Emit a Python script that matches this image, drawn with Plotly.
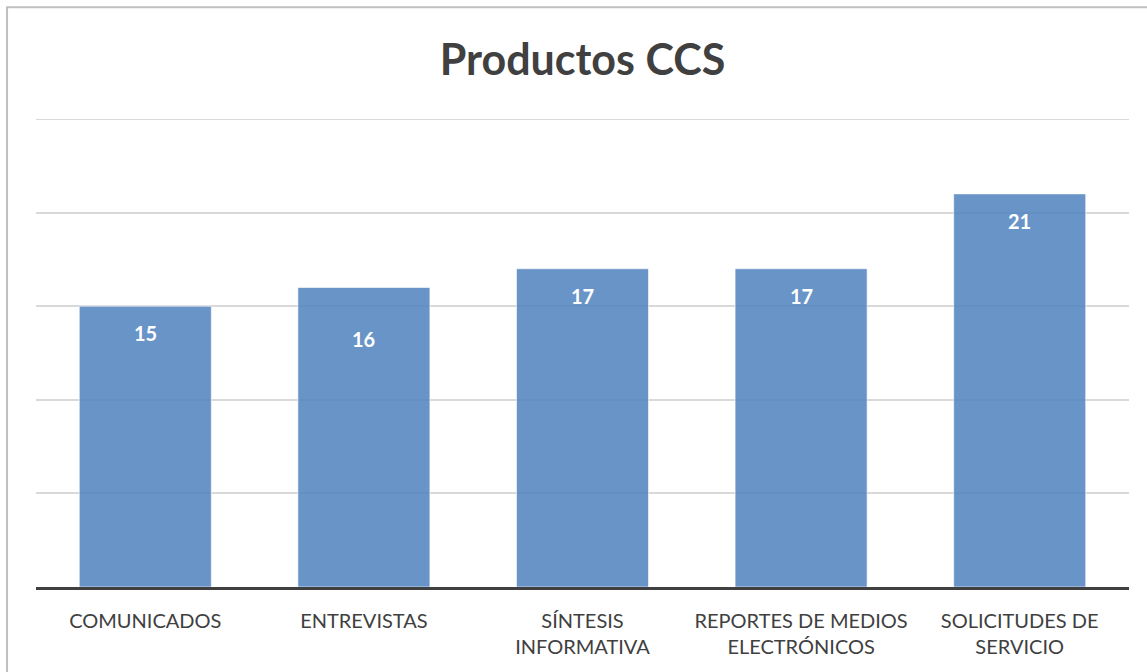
import plotly.graph_objects as go

categories = ["COMUNICADOS", "ENTREVISTAS", "SÍNTESIS<br>INFORMATIVA",
              "REPORTES DE MEDIOS<br>ELECTRÓNICOS", "SOLICITUDES DE<br>SERVICIO"]
values = [15, 16, 17, 17, 21]
title_text = "Productos CCS"
y_max = 25

label_shift = [-13, -38, -13, -13, -13]

fig = go.Figure()
fig.add_trace(go.Bar(
    x=categories, y=values,
    marker=dict(color="rgba(79,129,189,0.85)", line=dict(color="rgba(255,255,255,0.6)", width=1)),
    hoverinfo="x+y",
))

for c, v, s in zip(categories, values, label_shift):
    fig.add_annotation(x=c, y=v, text=f"<b>{v}</b>", showarrow=False,
                       yanchor="top", yshift=s,
                       font=dict(family="Lato", size=20, color="white"))

# top gridline at the axis maximum
fig.add_shape(type="line", xref="paper", yref="y", x0=0, x1=1, y0=y_max, y1=y_max,
              line=dict(color="#d9d9d9", width=2), layer="below")

fig.add_shape(type="rect", xref="paper", yref="paper",
              x0=-0.0265, x1=1.05, y0=-0.3, y1=1.239,
              line=dict(color="#bfbfbf", width=2), layer="below")

fig.update_layout(
    width=1147, height=672,
    margin=dict(l=36, r=18, t=119, b=85),
    paper_bgcolor="white", plot_bgcolor="white",
    title=dict(text=f"<b>{title_text}</b>", x=0.5, xref="paper", xanchor="center",
               y=1 - 60 / 672, yanchor="middle",
               font=dict(family="Lato", size=43, color="#404040")),
    bargap=0.396,
    showlegend=False,
    font=dict(family="Lato", color="#404040"),
)
fig.update_xaxes(showline=True, linecolor="#404040", linewidth=3,
                 ticks="", ticklabelstandoff=14,
                 tickfont=dict(family="Lato", size=20, color="#404040"),
                 showgrid=False)
fig.update_yaxes(range=[0, y_max], tickvals=[5, 10, 15, 20, 25], showticklabels=False, showgrid=True,
                 gridcolor="#d9d9d9", gridwidth=2, zeroline=False, showline=False)

fig.write_html("out.html", config={"displayModeBar": False},
               post_script="document.body.style.margin='0';")
